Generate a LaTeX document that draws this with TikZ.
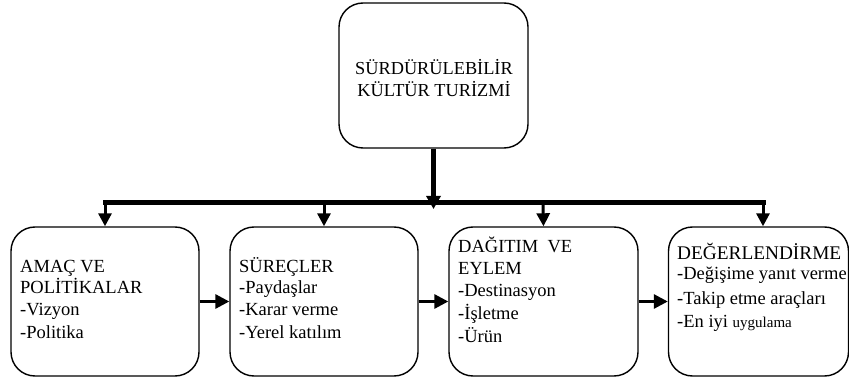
\documentclass[tikz,border=0pt]{standalone}
\usepackage{fontspec}
\newfontfamily\tnr{Liberation Serif}
\usetikzlibrary{arrows.meta}
\begin{document}
\begin{tikzpicture}[x=1pt,y=1pt,
  box/.style={draw, line width=1.4pt, rounded corners=24pt, inner sep=0pt},
  btext/.style={anchor=base west, inner sep=0pt, font=\tnr\fontsize{18.5}{22}\selectfont},
  ttext/.style={anchor=base, inner sep=0pt, font=\tnr\fontsize{18.3}{22}\selectfont},
  drop/.style={line width=3pt, -{Triangle[length=13pt,width=13pt]}},
  harrow/.style={line width=3pt, -{Triangle[length=14pt,width=14pt]}},
  stem/.style={line width=5pt, -{Triangle[length=13pt,width=14pt]}},
  bar/.style={line width=5pt, line cap=rect}
]
\useasboundingbox (0,0) rectangle (849,378);
% top box
\node[box, minimum width=189pt, minimum height=145pt] (top) at (433.5,302.5) {};
\node[ttext] (tt) at (434,303) {\begin{tabular}[t]{@{}c@{}}SÜRDÜRÜLEBİLİR\\KÜLTÜR TURİZMİ\end{tabular}};
% lower boxes
\node[box, minimum width=188pt, minimum height=149pt] (b1) at (105,76.5) {};
\node[box, minimum width=188pt, minimum height=149pt] (b2) at (324,76.5) {};
\node[box, minimum width=189pt, minimum height=149pt] (b3) at (543.5,76.5) {};
\node[box, minimum width=180pt, minimum height=149pt] (b4) at (758.5,76.5) {};
% texts
\node[btext] (t1) at (20,106) {\begin{tabular}[t]{@{}l@{}}AMAÇ VE\\[-1pt]POLİTİKALAR\\-Vizyon\\[1pt]-Politika\end{tabular}};
\node[btext] (t2) at (239,106) {\begin{tabular}[t]{@{}l@{}}SÜREÇLER\\[-1pt]-Paydaşlar\\-Karar verme\\[1pt]-Yerel katılım\end{tabular}};
\node[btext] (t3) at (458,125) {\begin{tabular}[t]{@{}l@{}}DAĞITIM\ \ VE\\EYLEM\\-Destinasyon\\[1pt]-İşletme\\[1pt]-Ürün\end{tabular}};
\node[btext] (t4) at (677,119) {\begin{tabular}[t]{@{}l@{}}{\fontsize{19.3}{22}\selectfont DEĞERLENDİRME}\\[-1pt]-Değişime yanıt verme\\[2pt]-Takip etme araçları\\[2pt]-En iyi {\fontsize{15}{16}\selectfont uygulama}\end{tabular}};
% tree connectors
\coordinate (d1) at (105,175);
\coordinate (d2) at (324,175);
\coordinate (d3) at (543,175);
\coordinate (d4) at (763,175);
\coordinate (jn) at (433.5,169);
\draw[bar] (d1) -- (d4);
\draw[stem] (top.south) -- (jn);
\draw[drop] (d1) -- (b1.north);
\draw[drop] (d2) -- (b2.north);
\draw[drop] (d3) -- (b3.north);
\draw[drop] (d4) -- (d4 |- b4.north);
% horizontal arrows
\draw[harrow] (b1.east) -- (b2.west);
\draw[harrow] (b2.east) -- (b3.west);
\draw[harrow] (b3.east) -- (b4.west);
\end{tikzpicture}
\end{document}
